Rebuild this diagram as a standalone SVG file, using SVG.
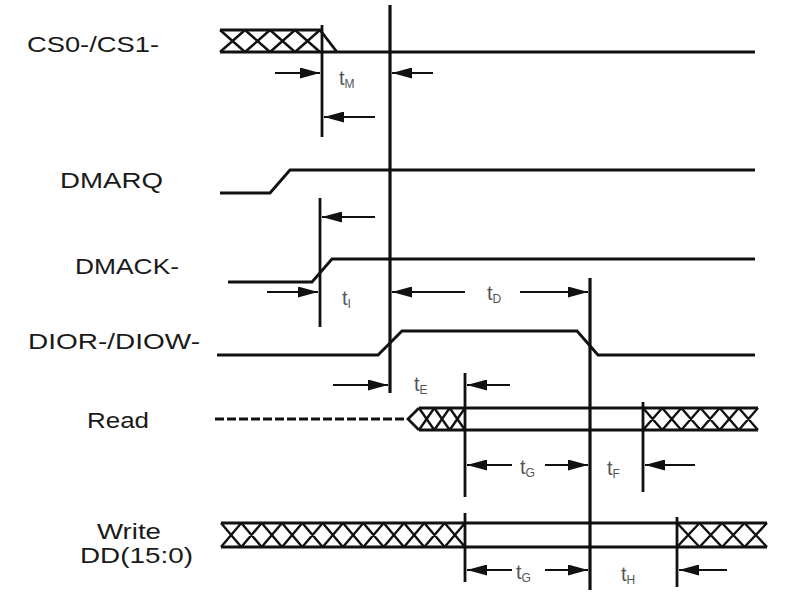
<svg xmlns="http://www.w3.org/2000/svg" width="792" height="596" viewBox="0 0 792 596">
<defs>
<marker id="ah" markerUnits="userSpaceOnUse" markerWidth="20" markerHeight="11" refX="20" refY="5.5" orient="auto">
<path d="M0,0 L20,5.5 L0,11 z" fill="#111"/>
</marker>
<style>
.sig{fill:none;stroke:#111;stroke-width:2.8;stroke-linejoin:miter}
.xh{fill:none;stroke:#111;stroke-width:2.4}
.vl{fill:none;stroke:#111;stroke-width:2.8}
.mv{fill:none;stroke:#111;stroke-width:3.2}
.ar{fill:none;stroke:#111;stroke-width:2.2;marker-end:url(#ah)}
.lbl{font-family:"Liberation Sans",Arial,sans-serif;font-size:22px;fill:#1a1a1a}
.tl{font-family:"Liberation Sans",Arial,sans-serif;font-size:20px;fill:#555}
.sub{font-size:12px}
</style>
</defs>
<rect width="792" height="596" fill="#fff"/>

<g id="labels">
<text class="lbl" x="27" y="52" textLength="132" lengthAdjust="spacingAndGlyphs">CS0-/CS1-</text>
<text class="lbl" x="60" y="188" textLength="103" lengthAdjust="spacingAndGlyphs">DMARQ</text>
<text class="lbl" x="75" y="274" textLength="104" lengthAdjust="spacingAndGlyphs">DMACK-</text>
<text class="lbl" x="28" y="349" textLength="172" lengthAdjust="spacingAndGlyphs">DIOR-/DIOW-</text>
<text class="lbl" x="87" y="428" textLength="62" lengthAdjust="spacingAndGlyphs">Read</text>
<text class="lbl" x="97" y="539" textLength="64" lengthAdjust="spacingAndGlyphs">Write</text>
<text class="lbl" x="80" y="563" textLength="113" lengthAdjust="spacingAndGlyphs">DD(15:0)</text>
</g>

<g id="cs0">
<path class="sig" d="M220,30 H320 L337,52 M220,52 H755"/>
<path class="xh" d="M220,30 L245,52 M245,30 L270,52 M270,30 L295,52 M295,30 L320,52 M220,52 L245,30 M245,52 L270,30 M270,52 L295,30 M295,52 L320,30"/>
</g>

<g id="dmarq">
<path class="sig" d="M220,193 H270 L290,170 H755"/>
</g>

<g id="dmack">
<path class="sig" d="M228,282 H312 L332,259 H755"/>
</g>

<g id="dior">
<path class="sig" d="M217,355 H378 L402,331 H577 L598,355 H755"/>
</g>

<g id="read">
<path class="sig" d="M215,419 H406" stroke-dasharray="9,3"/>
<path class="sig" d="M419,408 L408,419 L419,430 M419,408 H758 M419,430 H758"/>
<path class="xh" d="M419,408 L434.3,430 M434.3,408 L449.7,430 M449.7,408 L465,430 M419,430 L434.3,408 M434.3,430 L449.7,408 M449.7,430 L465,408"/>
<path class="xh" d="M643,408 L662.2,430 M662.2,408 L681.3,430 M681.3,408 L700.5,430 M700.5,408 L719.7,430 M719.7,408 L738.8,430 M738.8,408 L758,430 M643,430 L662.2,408 M662.2,430 L681.3,408 M681.3,430 L700.5,408 M700.5,430 L719.7,408 M719.7,430 L738.8,408 M738.8,430 L758,408"/>
</g>

<g id="write">
<path class="sig" d="M221,523 H767 M221,547 H767"/>
<path class="xh" d="M221,523 L241.3,547 M241.3,523 L261.7,547 M261.7,523 L282,547 M282,523 L302.3,547 M302.3,523 L322.7,547 M322.7,523 L343,547 M343,523 L363.3,547 M363.3,523 L383.7,547 M383.7,523 L404,547 M404,523 L424.3,547 M424.3,523 L444.7,547 M444.7,523 L465,547 M221,547 L241.3,523 M241.3,547 L261.7,523 M261.7,547 L282,523 M282,547 L302.3,523 M302.3,547 L322.7,523 M322.7,547 L343,523 M343,547 L363.3,523 M363.3,547 L383.7,523 M383.7,547 L404,523 M404,547 L424.3,523 M424.3,547 L444.7,523 M444.7,547 L465,523"/>
<path class="xh" d="M677,523 L699.5,547 M699.5,523 L722,547 M722,523 L744.5,547 M744.5,523 L767,547 M677,547 L699.5,523 M699.5,547 L722,523 M722,547 L744.5,523 M744.5,547 L767,523"/>
</g>

<g id="connectors">
<path class="mv" d="M390,5 V393"/>
<path class="mv" d="M590,278 V590"/>
<path class="vl" d="M322,25 V137"/>
<path class="vl" d="M320,198 V327"/>
<path class="vl" d="M465,373 V497"/>
<path class="vl" d="M643,402 V492"/>
<path class="vl" d="M465,513 V582"/>
<path class="vl" d="M677,517 V587"/>
<path class="ar" d="M275,73 H320"/>
<path class="ar" d="M433,73 H392"/>
<path class="ar" d="M375,117 H324"/>
<path class="ar" d="M375,217 H322"/>
<path class="ar" d="M267,292 H318"/>
<path class="ar" d="M465,292 H392"/>
<path class="ar" d="M520,292 H588"/>
<path class="ar" d="M333,385 H388"/>
<path class="ar" d="M510,385 H467"/>
<path class="ar" d="M512,465 H467"/>
<path class="ar" d="M545,465 H588"/>
<path class="ar" d="M695,465 H645"/>
<path class="ar" d="M512,570 H467"/>
<path class="ar" d="M545,570 H588"/>
<path class="ar" d="M727,570 H679"/>
</g>

<g id="timing-labels">
<text class="tl" x="339" y="85">t<tspan class="sub" dy="3">M</tspan></text>
<text class="tl" x="342" y="305">t<tspan class="sub" dy="3">I</tspan></text>
<text class="tl" x="487" y="300">t<tspan class="sub" dy="3">D</tspan></text>
<text class="tl" x="414" y="391">t<tspan class="sub" dy="3">E</tspan></text>
<text class="tl" x="520" y="474">t<tspan class="sub" dy="3">G</tspan></text>
<text class="tl" x="607" y="475">t<tspan class="sub" dy="3">F</tspan></text>
<text class="tl" x="516" y="579">t<tspan class="sub" dy="3">G</tspan></text>
<text class="tl" x="621" y="581">t<tspan class="sub" dy="3">H</tspan></text>
</g>
</svg>
